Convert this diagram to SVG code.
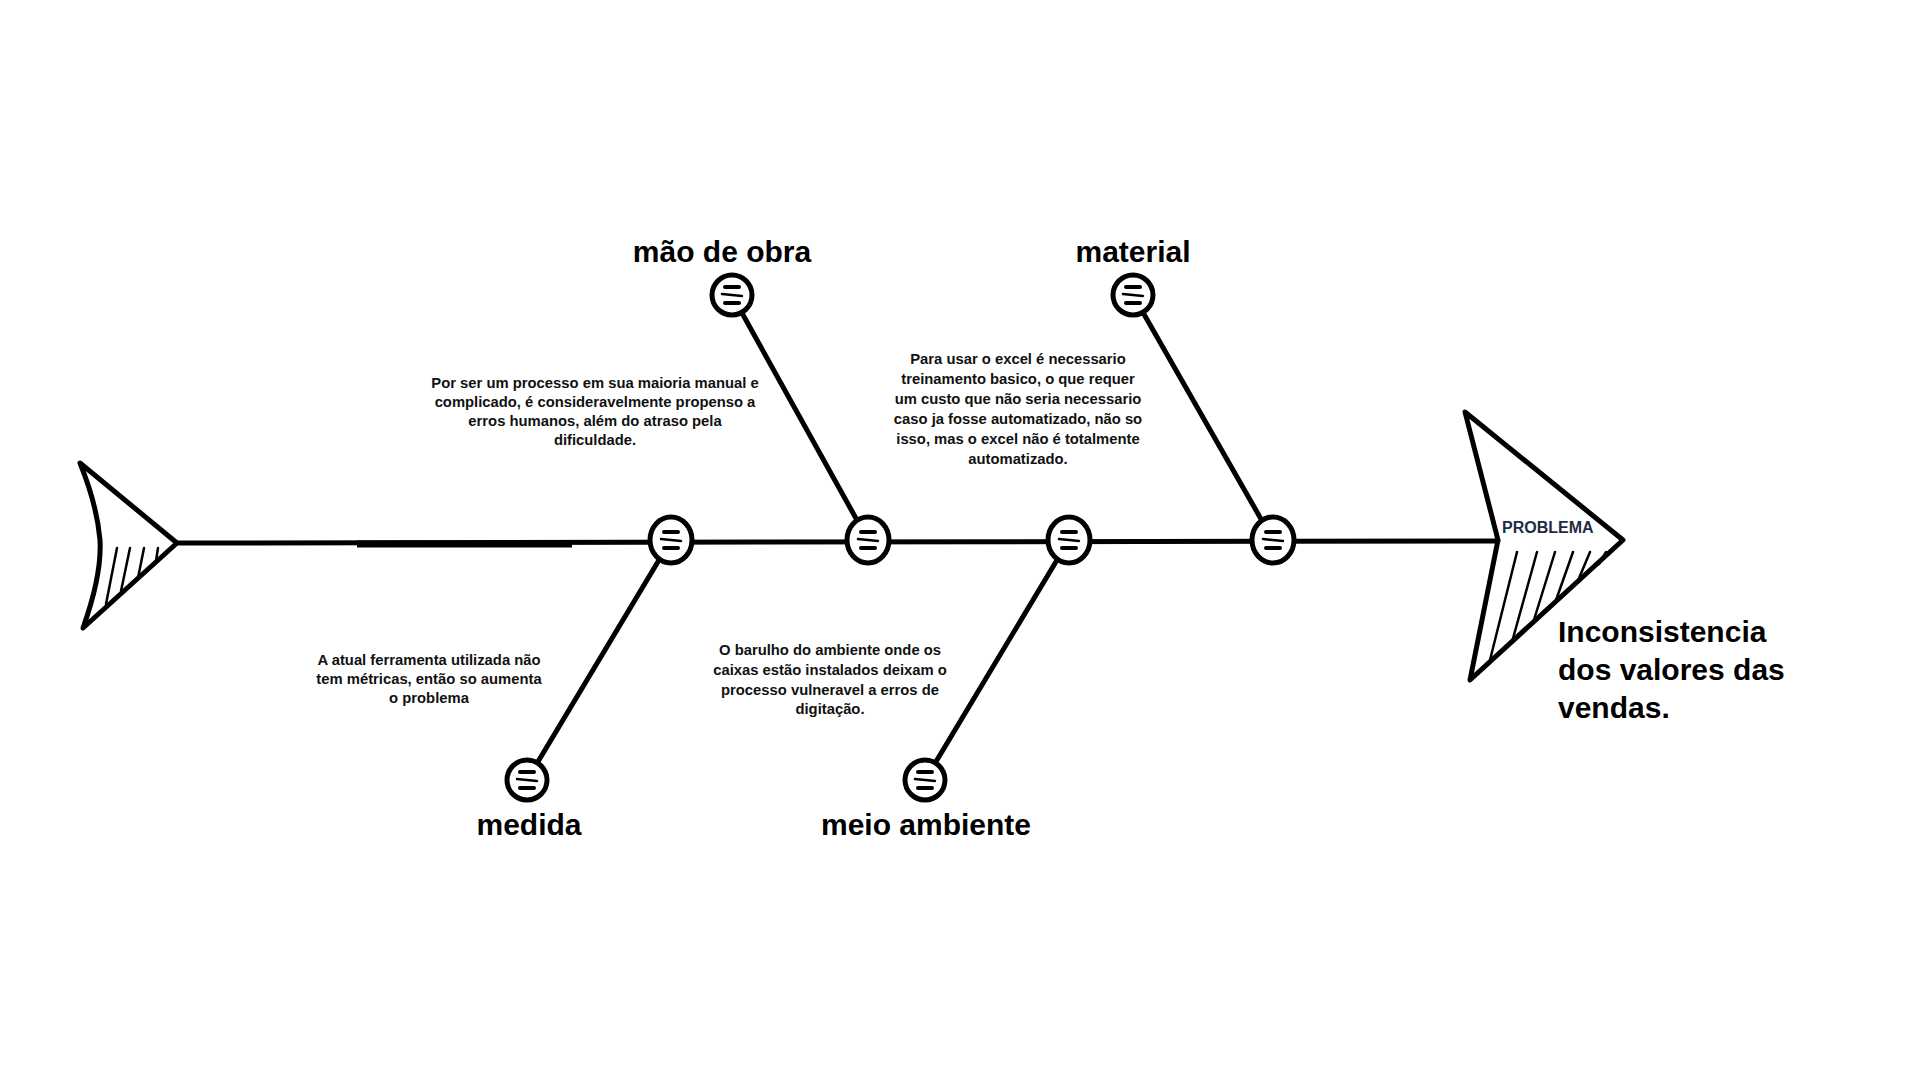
<svg xmlns="http://www.w3.org/2000/svg" width="1920" height="1080" viewBox="0 0 1920 1080">
<style>
.bone{fill:none;stroke:#000;stroke-width:5;stroke-linecap:round;stroke-linejoin:round}
.hatch{fill:none;stroke:#000;stroke-width:2.5;stroke-linecap:round}
.ring{fill:#fff;stroke:#000;stroke-width:5}
.bar{stroke:#000;stroke-linecap:round}
.cat{font-family:"Liberation Sans",Arial,sans-serif;font-weight:700;font-size:30px;fill:#000;text-anchor:middle}
.desc{font-family:"Liberation Sans",Arial,sans-serif;font-weight:700;font-size:14.8px;fill:#111;text-anchor:middle}
.prob{font-family:"Liberation Sans",Arial,sans-serif;font-weight:700;font-size:16px;fill:#1f2a44}
.eff{font-family:"Liberation Sans",Arial,sans-serif;font-weight:700;font-size:30px;fill:#000}
</style>
<defs>
<g id="icon">
<line class="bar" x1="-7" y1="-8" x2="7" y2="-8" stroke-width="4"/>
<line class="bar" x1="-10" y1="-1" x2="10" y2="1" stroke-width="2.5"/>
<line class="bar" x1="-7" y1="8" x2="7" y2="8" stroke-width="4"/>
</g>
</defs>
<rect width="1920" height="1080" fill="#fff"/>
<g id="connectors">
<line class="bone" x1="177" y1="543" x2="1498" y2="541"/>
<line x1="357" y1="544" x2="572" y2="544" stroke="#000" stroke-width="7"/>
<line class="bone" x1="732" y1="295" x2="868" y2="540"/>
<line class="bone" x1="1133" y1="295" x2="1273" y2="540"/>
<line class="bone" x1="671" y1="540" x2="527" y2="780"/>
<line class="bone" x1="1069" y1="540" x2="925" y2="780"/>
</g>
<g id="tail">
<path class="bone" d="M80,463 L177,543 L83,628 Q102,575 100,540 Q97,505 80,463 Z" fill="#fff"/>
<line class="hatch" x1="117" y1="548" x2="106" y2="604"/>
<line class="hatch" x1="130" y1="548" x2="121" y2="591"/>
<line class="hatch" x1="144" y1="548" x2="138" y2="578"/>
<line class="hatch" x1="158" y1="548" x2="156" y2="561"/>
</g>
<g id="head">
<path class="bone" d="M1465,412 L1623,540 L1470,680 L1498,540 Z" fill="#fff"/>
<line class="hatch" x1="1517" y1="552" x2="1490" y2="660"/>
<line class="hatch" x1="1537" y1="552" x2="1512" y2="642"/>
<line class="hatch" x1="1555" y1="552" x2="1533" y2="623"/>
<line class="hatch" x1="1573" y1="552" x2="1555" y2="603"/>
<line class="hatch" x1="1590" y1="552" x2="1577" y2="583"/>
<line class="hatch" x1="1606" y1="552" x2="1599" y2="564"/>
<text class="prob" x="1502" y="533">PROBLEMA</text>
<text class="eff" x="1558" y="642">Inconsistencia</text>
<text class="eff" x="1558" y="680">dos valores das</text>
<text class="eff" x="1558" y="718">vendas.</text>
</g>
<g id="spine-node-1"><ellipse class="ring" cx="671" cy="540" rx="21" ry="23"/><use href="#icon" x="671" y="540"/></g>
<g id="spine-node-2"><ellipse class="ring" cx="868" cy="540" rx="21" ry="23"/><use href="#icon" x="868" y="540"/></g>
<g id="spine-node-3"><ellipse class="ring" cx="1069" cy="540" rx="21" ry="23"/><use href="#icon" x="1069" y="540"/></g>
<g id="spine-node-4"><ellipse class="ring" cx="1273" cy="540" rx="21" ry="23"/><use href="#icon" x="1273" y="540"/></g>
<g id="mao-de-obra">
<circle class="ring" cx="732" cy="295" r="20"/><use href="#icon" x="732" y="295"/>
<text class="cat" x="722" y="262">mão de obra</text>
<text class="desc" x="595" y="388">Por ser um processo em sua maioria manual e</text>
<text class="desc" x="595" y="407">complicado, é consideravelmente propenso a</text>
<text class="desc" x="595" y="426">erros humanos, além do atraso pela</text>
<text class="desc" x="595" y="445">dificuldade.</text>
</g>
<g id="material">
<circle class="ring" cx="1133" cy="295" r="20"/><use href="#icon" x="1133" y="295"/>
<text class="cat" x="1133" y="262">material</text>
<text class="desc" x="1018" y="364">Para usar o excel é necessario</text>
<text class="desc" x="1018" y="384">treinamento basico, o que requer</text>
<text class="desc" x="1018" y="404">um custo que não seria necessario</text>
<text class="desc" x="1018" y="424">caso ja fosse automatizado, não so</text>
<text class="desc" x="1018" y="444">isso, mas o excel não é totalmente</text>
<text class="desc" x="1018" y="464">automatizado.</text>
</g>
<g id="medida">
<circle class="ring" cx="527" cy="780" r="20"/><use href="#icon" x="527" y="780"/>
<text class="cat" x="529" y="835">medida</text>
<text class="desc" x="429" y="665">A atual ferramenta utilizada não</text>
<text class="desc" x="429" y="684">tem métricas, então so aumenta</text>
<text class="desc" x="429" y="703">o problema</text>
</g>
<g id="meio-ambiente">
<circle class="ring" cx="925" cy="780" r="20"/><use href="#icon" x="925" y="780"/>
<text class="cat" x="926" y="835">meio ambiente</text>
<text class="desc" x="830" y="655">O barulho do ambiente onde os</text>
<text class="desc" x="830" y="675">caixas estão instalados deixam o</text>
<text class="desc" x="830" y="695">processo vulneravel a erros de</text>
<text class="desc" x="830" y="714">digitação.</text>
</g>
</svg>
